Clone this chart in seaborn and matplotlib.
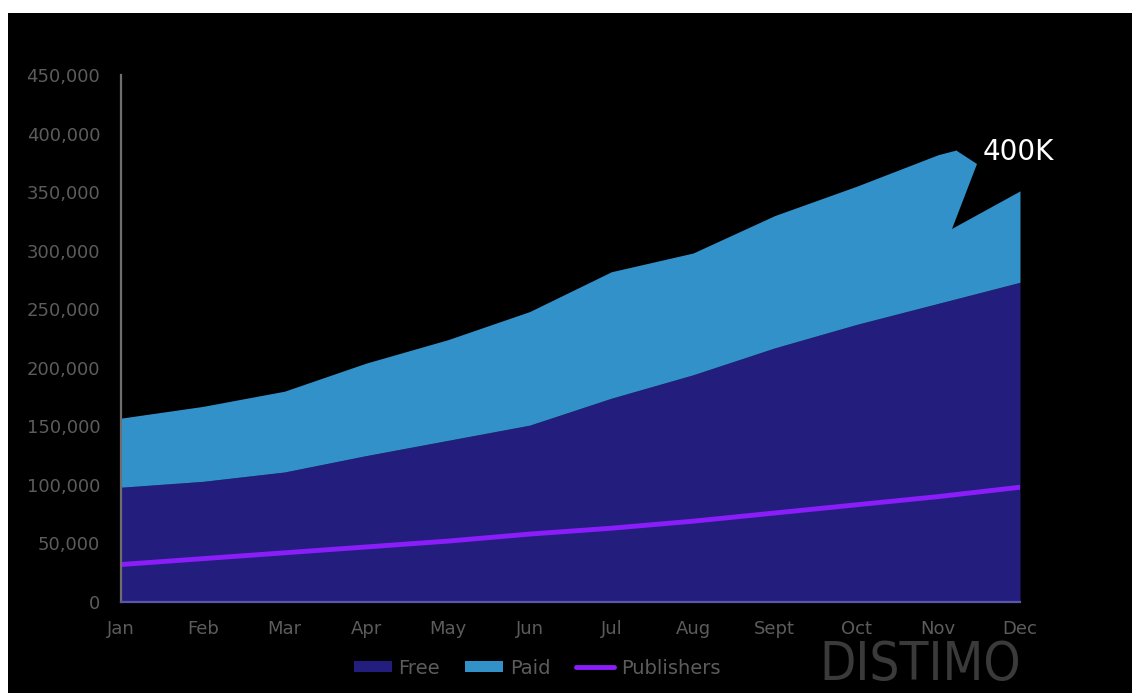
import matplotlib
matplotlib.use("Agg")
import matplotlib.pyplot as plt
import seaborn as sns
import pandas as pd
import numpy as np
from matplotlib.patches import Rectangle, Patch, Polygon
from matplotlib.lines import Line2D

months = ["Jan", "Feb", "Mar", "Apr", "May", "Jun", "Jul", "Aug", "Sept", "Oct", "Nov", "Dec"]
free = [98000, 103000, 111000, 125000, 138000, 151000, 174000, 194000, 217000, 237000, 255000, 273000]
total = [157000, 167000, 180000, 204000, 224000, 248000, 282000, 298000, 330000, 355000, 382000, 400000]
publishers = [32000, 37000, 42000, 47000, 52000, 58000, 63000, 69000, 76000, 83000, 90000, 98000]
yticks = [0, 50000, 100000, 150000, 200000, 250000, 300000, 350000, 400000, 450000]

df = pd.DataFrame({"x": np.arange(len(months)), "month": months, "free": free,
                   "total": total, "publishers": publishers})

sns.set_theme(style="white")
plt.rcParams['font.family'] = ['DejaVu Sans']

W, H = 1132, 693
fig = plt.figure(figsize=(W / 100, H / 100), dpi=100, facecolor="white")
bg = fig.add_axes([8 / W, 0, 1 - 8 / W, 1 - 13 / H], zorder=-10)
bg.set_facecolor("black")
bg.set_axis_off()
bg.add_patch(Rectangle((0, 0), 1, 1, transform=bg.transAxes, facecolor="black", edgecolor="none"))

ax = fig.add_axes([121 / W, 1 - 602 / H, (1020 - 121) / W, (602 - 75) / H], zorder=1)
ax.set_facecolor("black")

c_free = "#231d7e"
c_paid = "#3391c9"
c_pub = "#8b1dfa"

ax.fill_between(df["x"], 0, df["free"], color=c_free, lw=0, zorder=2)
ax.fill_between(df["x"], df["free"], df["total"], color=c_paid, lw=0, zorder=2)
sns.lineplot(data=df, x="x", y="publishers", color=c_pub, lw=3.5, ax=ax, zorder=3)

ax.set_xlim(0, 11)
ax.set_ylim(0, 450000)
ax.set_xticks(df["x"])
ax.set_xticklabels(months)
ax.set_yticks(yticks)
ax.set_yticklabels([f"{v:,}" for v in yticks])
ax.set_xlabel("")
ax.set_ylabel("")
grey = "#5c5c5c"
ax.tick_params(axis="both", colors=grey, labelsize=13, length=5, width=1.2, direction="out")
ax.tick_params(axis="y", pad=10)
ax.tick_params(axis="x", pad=8)
for s in ["top", "right"]:
    ax.spines[s].set_visible(False)
ax.spines["left"].set_color("#6e6e6e")
ax.spines["bottom"].set_color("#5a56a8")
for s in ["left", "bottom"]:
    ax.spines[s].set_linewidth(1.6)
    ax.spines[s].set_zorder(4)

# callout bubble (black) with label
def px(xp, yp):
    return ((xp - 121) / ((1020 - 121) / 11), (602 - yp) * 450000 / 527)

poly = [px(957, 151), px(977, 164), px(952, 229), px(1023, 190), px(1060, 120), px(957, 110)]
ax.add_patch(Polygon(poly, closed=True, facecolor="black", edgecolor="none", zorder=5, clip_on=False))
ax.text(*px(1018, 152), "400K", color="white", fontsize=20, ha="center", va="center", zorder=6)

handles = [Patch(facecolor=c_free, edgecolor="none"), Patch(facecolor=c_paid, edgecolor="none"),
           Line2D([0], [0], color=c_pub, lw=3.5)]
leg = fig.legend(handles, ["Free", "Paid", "Publishers"], loc="center",
                 bbox_to_anchor=(537 / W, 1 - 668 / H), ncol=3, frameon=False,
                 fontsize=14, handlelength=1.95, handleheight=0.5, handletextpad=0.35,
                 columnspacing=1.3, labelcolor=grey)

fig.text(920 / W, 1 - 680 / H, "DISTIMO", color="#3a3a3a", fontsize=38,
         ha="center", va="baseline", family=["DejaVu Sans"], fontstretch="condensed")

fig.savefig("out.png", dpi=100, facecolor="white")
